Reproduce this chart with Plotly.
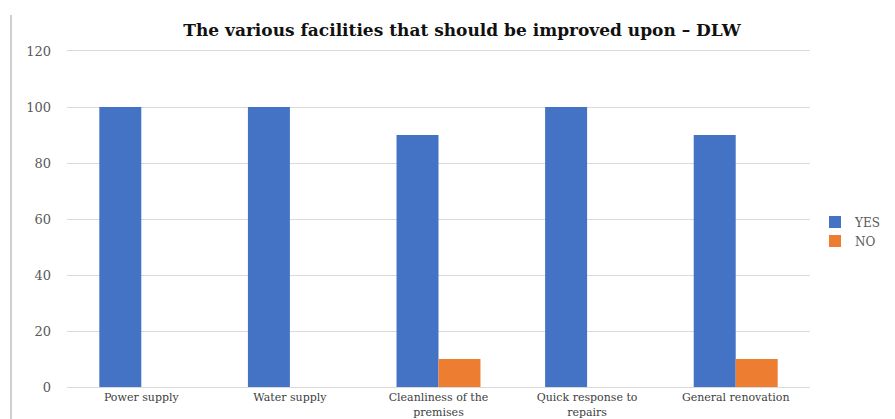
import plotly.graph_objects as go

categories = ["Power supply", "Water supply", "Cleanliness of the<br>premises",
              "Quick response to<br>repairs", "General renovation"]
yes_values = [100, 100, 90, 100, 90]
no_values = [0, 0, 10, 0, 10]
title_text = "The various facilities that should be improved upon – DLW"
y_ticks = [0, 20, 40, 60, 80, 100, 120]

FONT = "DejaVu Serif, Liberation Serif, serif"

fig = go.Figure()
fig.add_trace(go.Bar(name="YES", x=categories, y=yes_values, marker_color="#4472C4",
                     marker_line_width=0))
fig.add_trace(go.Bar(name="NO", x=categories, y=no_values, marker_color="#ED7D31",
                     marker_line_width=0))

fig.update_layout(
    width=895, height=419,
    margin=dict(l=67, r=85, t=51, b=32, autoexpand=False),
    paper_bgcolor="white", plot_bgcolor="white",
    barmode="group", bargap=0.435, bargroupgap=0,
    font=dict(family=FONT, color="#595959", size=12),
    title=dict(text="<b>" + title_text + "</b>", x=462 / 895, xref="container",
               xanchor="center", y=1 - 30 / 419, yanchor="middle",
               font=dict(family=FONT, size=17, color="#111111")),
    legend=dict(xref="container", x=815 / 895, xanchor="left",
                yref="container", y=1 - 231.5 / 419, yanchor="middle",
                font=dict(family=FONT, size=12, color="#595959"),
                itemwidth=30, tracegroupgap=0, bgcolor="rgba(0,0,0,0)"),
    xaxis=dict(showgrid=False, showline=True, mirror=True, linecolor="#D9D9D9",
               linewidth=1, ticks="", automargin=False,
               tickfont=dict(family=FONT, size=11, color="#404040"),
               ticklabelstandoff=0),
    yaxis=dict(range=[0, 120], tickvals=y_ticks, showgrid=True, gridcolor="#D9D9D9",
               gridwidth=1, zeroline=False, showline=False, ticks="", automargin=False,
               tickfont=dict(family=FONT, size=13, color="#595959"),
               ticklabelstandoff=15),
)

fig.add_shape(type="line", xref="paper", yref="paper",
              x0=(11 - 67) / 743, x1=(11 - 67) / 743, y0=-32 / 336, y1=1 + 36 / 336,
              line=dict(color="#BFBFBF", width=1.5))

fig.write_html("out.html")
